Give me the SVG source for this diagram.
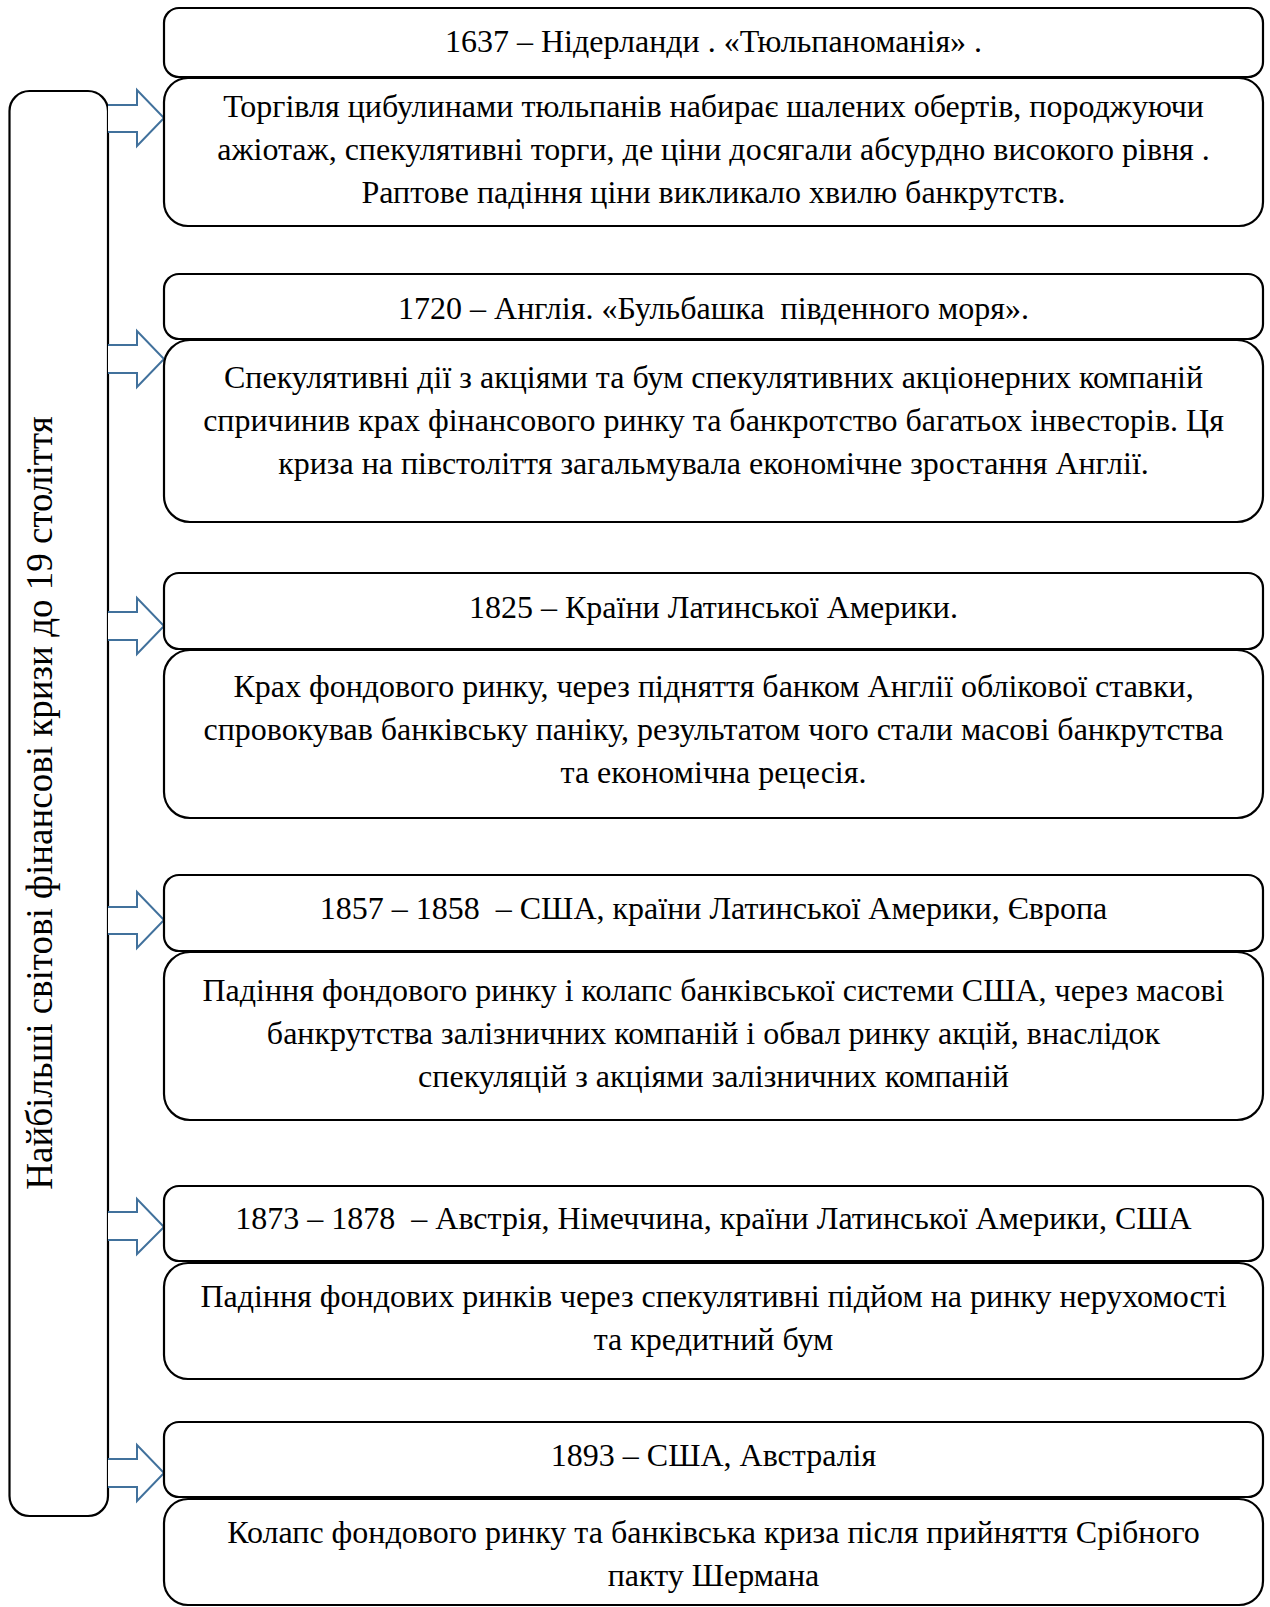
<svg xmlns="http://www.w3.org/2000/svg" width="1270" height="1607" viewBox="0 0 1270 1607">
<style>
.box{fill:#fff;stroke:#000;stroke-width:2.2}
.arr{fill:#fff;stroke:#41719C;stroke-width:2}
text{font-family:"Liberation Serif","Times New Roman",serif;font-size:32px;fill:#000;text-anchor:middle;white-space:pre}
.side{font-size:37px}
</style>
<rect width="1270" height="1607" fill="#fff"/>
<g id="side">
<rect class="box" x="9.5" y="91" width="98.5" height="1425" rx="20"/>
<text class="side" transform="translate(52,803) rotate(-90)" x="0" y="0">Найбільші світові фінансові кризи до 19 століття</text>
</g>
<g id="connectors">
<path class="arr" d="M108 105 H137 V90 L164 118 L137 146 V132 H108"/>
<path class="arr" d="M108 345 H137 V331 L164 359 L137 387 V373 H108"/>
<path class="arr" d="M108 612 H137 V598 L164 626 L137 654 V640 H108"/>
<path class="arr" d="M108 907 H137 V892 L164 920 L137 948 V934 H108"/>
<path class="arr" d="M108 1212 H137 V1199 L164 1227 L137 1254 V1240 H108"/>
<path class="arr" d="M108 1459 H137 V1445 L164 1473 L137 1501 V1487 H108"/>
</g>
<g id="h1"><rect class="box" x="164" y="8" width="1099" height="69" rx="15"/><text x="713.5" y="52">1637 – Нідерланди . «Тюльпаноманія» .</text></g>
<g id="b1"><rect class="box" x="164" y="78" width="1099" height="148" rx="24"/>
<text x="713.5" y="117">Торгівля цибулинами тюльпанів набирає шалених обертів, породжуючи</text>
<text x="713.5" y="160">ажіотаж, спекулятивні торги, де ціни досягали абсурдно високого рівня .</text>
<text x="713.5" y="203">Раптове падіння ціни викликало хвилю банкрутств.</text></g>
<g id="h2"><rect class="box" x="164" y="274" width="1099" height="65" rx="15"/><text x="713.5" y="319">1720 – Англія. «Бульбашка  південного моря».</text></g>
<g id="b2"><rect class="box" x="164" y="340" width="1099" height="182" rx="26"/>
<text x="713.5" y="388">Спекулятивні дії з акціями та бум спекулятивних акціонерних компаній</text>
<text x="713.5" y="431">спричинив крах фінансового ринку та банкротство багатьох інвесторів. Ця</text>
<text x="713.5" y="474">криза на півстоліття загальмувала економічне зростання Англії.</text></g>
<g id="h3"><rect class="box" x="164" y="573" width="1099" height="76" rx="15"/><text x="713.5" y="618">1825 – Країни Латинської Америки.</text></g>
<g id="b3"><rect class="box" x="164" y="650" width="1099" height="168" rx="26"/>
<text x="713.5" y="697">Крах фондового ринку, через підняття банком Англії облікової ставки,</text>
<text x="713.5" y="740">спровокував банківську паніку, результатом чого стали масові банкрутства</text>
<text x="713.5" y="783">та економічна рецесія.</text></g>
<g id="h4"><rect class="box" x="164" y="875" width="1099" height="76" rx="15"/><text x="713.5" y="919">1857 – 1858  – США, країни Латинської Америки, Європа</text></g>
<g id="b4"><rect class="box" x="164" y="952" width="1099" height="168" rx="26"/>
<text x="713.5" y="1001">Падіння фондового ринку і колапс банківської системи США, через масові</text>
<text x="713.5" y="1044">банкрутства залізничних компаній і обвал ринку акцій, внаслідок</text>
<text x="713.5" y="1087">спекуляцій з акціями залізничних компаній</text></g>
<g id="h5"><rect class="box" x="164" y="1186" width="1099" height="75" rx="15"/><text x="713.5" y="1229">1873 – 1878  – Австрія, Німеччина, країни Латинської Америки, США</text></g>
<g id="b5"><rect class="box" x="164" y="1263" width="1099" height="116" rx="24"/>
<text x="713.5" y="1307">Падіння фондових ринків через спекулятивні підйом на ринку нерухомості</text>
<text x="713.5" y="1350">та кредитний бум</text></g>
<g id="h6"><rect class="box" x="164" y="1422" width="1099" height="75" rx="15"/><text x="713.5" y="1466">1893 – США, Австралія</text></g>
<g id="b6"><rect class="box" x="164" y="1499" width="1099" height="106" rx="24"/>
<text x="713.5" y="1543">Колапс фондового ринку та банківська криза після прийняття Срібного</text>
<text x="713.5" y="1586">пакту Шермана</text></g>
</svg>
